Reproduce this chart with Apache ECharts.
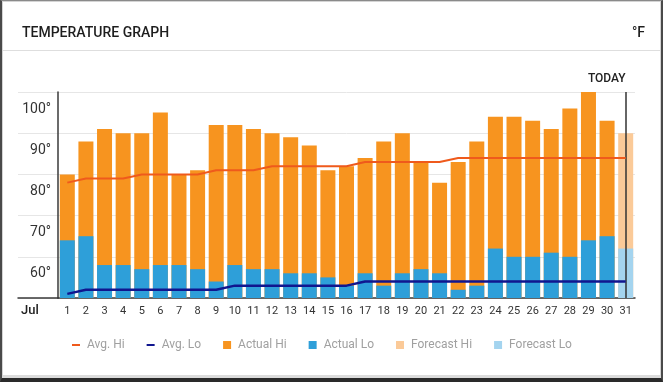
<!DOCTYPE html>
<html>
<head>
<meta charset="utf-8">
<script src="https://cdn.jsdelivr.net/npm/echarts@6/dist/echarts.min.js"></script>
<style>
  html, body { margin: 0; padding: 0; background: #fff; }
  #frame {
    position: absolute; left: 0; top: 0; width: 663px; height: 382px;
    box-sizing: border-box;
    border-left: 2px solid #4a4a4a; border-right: 2px solid #4a4a4a;
    border-top: 1px solid #8a8a8a; border-bottom: 4px solid #2a2a2a;
  }
  #inner {
    position: absolute; left: 0; top: 0; right: 0; bottom: 0;
    border: 1px solid #d4d4d4; border-bottom-width: 3px; border-bottom-color: #dcdcdc;
  }
  #sep { position: absolute; left: 3px; right: 3px; top: 50px; height: 0; border-top: 1.5px solid #dedede; }
  #chart { position: absolute; left: 0; top: 0; width: 663px; height: 382px; }
</style>
</head>
<body>
<div id="frame"><div id="inner"></div></div>
<div id="sep"></div>
<div id="chart"></div>
<script>
// ---- data ----
const days = ['1','2','3','4','5','6','7','8','9','10','11','12','13','14','15','16',
              '17','18','19','20','21','22','23','24','25','26','27','28','29','30','31'];
const actualHi = [80, 88, 91, 90, 90, 95, 80, 81, 92, 92, 91, 90, 89, 87, 81, 82,
                  84, 88, 90, 83, 78, 83, 88, 94, 94, 93, 91, 96, 100, 93, null];
const actualLo = [64, 65, 58, 58, 57, 58, 58, 57, 54, 58, 57, 57, 56, 56, 55, 53,
                  56, 53, 56, 57, 56, 52, 53, 62, 60, 60, 61, 60, 64, 65, null];
const forecastHi = [null, null, null, null, null, null, null, null, null, null, null, null, null, null, null, null,
                    null, null, null, null, null, null, null, null, null, null, null, null, null, null, 90];
const forecastLo = [null, null, null, null, null, null, null, null, null, null, null, null, null, null, null, null,
                    null, null, null, null, null, null, null, null, null, null, null, null, null, null, 62];
const avgHi = [78, 79, 79, 79, 80, 80, 80, 80, 81, 81, 81, 82, 82, 82, 82, 82,
               83, 83, 83, 83, 83, 84, 84, 84, 84, 84, 84, 84, 84, 84, 84];
const avgLo = [51, 52, 52, 52, 52, 52, 52, 52, 52, 53, 53, 53, 53, 53, 53, 53,
               54, 54, 54, 54, 54, 54, 54, 54, 54, 54, 54, 54, 54, 54, 54];
const yTicks = { min: 50, max: 100, interval: 10 };
const todayDay = '31';

const FONT = 'Roboto, "Noto Sans", sans-serif';
const chart = echarts.init(document.getElementById('chart'), null, { renderer: 'canvas' });

const barBase = { type: 'bar', barWidth: 15, barGap: '-100%', xAxisIndex: 0, yAxisIndex: 0 };
const dashIcon = 'path://M0,0H8V2H0Z';

const option = {
  animation: false,
  textStyle: { fontFamily: FONT },
  title: [
    { text: 'TEMPERATURE GRAPH', left: 17, top: 21,
      textStyle: { fontFamily: FONT, fontSize: 14, fontWeight: 500, color: '#1e1e1e' } },
    { text: '°F', right: 13, top: 21,
      textStyle: { fontFamily: FONT, fontSize: 14, fontWeight: 500, color: '#1e1e1e' } }
  ],
  legend: {
    left: 67, top: 334,
    itemWidth: 8, itemHeight: 8, itemGap: 22, symbolKeepAspect: true,
    textStyle: { fontFamily: FONT, fontSize: 12, color: '#a0a0a0', padding: [0, 0, 0, 2] },
    data: [{ name: 'Avg. Hi', icon: dashIcon, itemStyle: { color: '#ef5a1c' } },
           { name: 'Avg. Lo', icon: dashIcon, itemStyle: { color: '#10168f' } },
           { name: 'Actual Hi', icon: 'rect' }, { name: 'Actual Lo', icon: 'rect' },
           { name: 'Forecast Hi', icon: 'rect' }, { name: 'Forecast Lo', icon: 'rect' }]
  },
  grid: [
    { left: 58, right: 28, top: 92, bottom: 84 },
    { left: 18, width: 40, top: 92, bottom: 84 }
  ],
  xAxis: [
    { type: 'category', data: days, gridIndex: 0,
      axisLine: { lineStyle: { color: '#3a3a3a', width: 1.5 } },
      axisTick: { show: false },
      axisLabel: { interval: 0, fontSize: 11, color: '#333', margin: 8, fontFamily: FONT } },
    { type: 'category', data: [''], gridIndex: 1,
      axisLine: { lineStyle: { color: '#3a3a3a', width: 1.5 } },
      axisTick: { show: false }, axisLabel: { show: false } }
  ],
  yAxis: [
    { type: 'value', gridIndex: 0, min: yTicks.min, max: yTicks.max, interval: yTicks.interval,
      axisLine: { show: true, lineStyle: { color: '#3a3a3a', width: 1.5 } },
      axisTick: { show: false },
      splitLine: { lineStyle: { color: '#e6e6e6', width: 1 } },
      axisLabel: {
        fontSize: 14, color: '#333', margin: 7, fontFamily: FONT,
        verticalAlign: 'top', lineHeight: 14, padding: [10, 0, 0, 0],
        formatter: v => (v === yTicks.min ? '' : v + '°')
      } },
    { type: 'value', gridIndex: 1, min: yTicks.min, max: yTicks.max, interval: yTicks.interval,
      axisLine: { show: false }, axisTick: { show: false }, axisLabel: { show: false },
      splitLine: { lineStyle: { color: '#e6e6e6', width: 1 } } }
  ],
  series: [
    Object.assign({ name: 'Actual Hi', data: actualHi, itemStyle: { color: '#f7941f' } }, barBase),
    Object.assign({ name: 'Forecast Hi', data: forecastHi, itemStyle: { color: '#fbca98' } }, barBase),
    Object.assign({ name: 'Actual Lo', data: actualLo, itemStyle: { color: '#2e9fd9' } }, barBase),
    Object.assign({ name: 'Forecast Lo', data: forecastLo, itemStyle: { color: '#a4d4ef' },
      markLine: {
        silent: true, symbol: ['none', 'none'],
        lineStyle: { color: '#333', width: 1.5, type: 'solid' },
        label: { show: false },
        data: [{ xAxis: todayDay }]
      } }, barBase),
    { name: 'Avg. Hi', type: 'line', data: avgHi, symbol: 'none', z: 5,
      lineStyle: { color: '#ef5a1c', width: 2 }, itemStyle: { color: '#ef5a1c' } },
    { name: 'Avg. Lo', type: 'line', data: avgLo, symbol: 'none', z: 5,
      lineStyle: { color: '#10168f', width: 2.5 }, itemStyle: { color: '#10168f' } }
  ]
};
chart.setOption(option);

// "Jul" and "TODAY" labels positioned from the axes
const todayX = chart.convertToPixel({ xAxisIndex: 0 }, todayDay);
const topY = chart.convertToPixel({ yAxisIndex: 0 }, yTicks.max);
const baseY = chart.convertToPixel({ yAxisIndex: 0 }, yTicks.min);
chart.setOption({
  graphic: [
    { type: 'text', left: 21, top: baseY + 6,
      style: { text: 'Jul', font: '500 13px ' + FONT, fill: '#222' } },
    { type: 'text', x: todayX, y: topY - 13,
      style: { text: 'TODAY', font: '500 12px ' + FONT, fill: '#222', align: 'right', verticalAlign: 'middle' } }
  ]
});
</script>
</body>
</html>
